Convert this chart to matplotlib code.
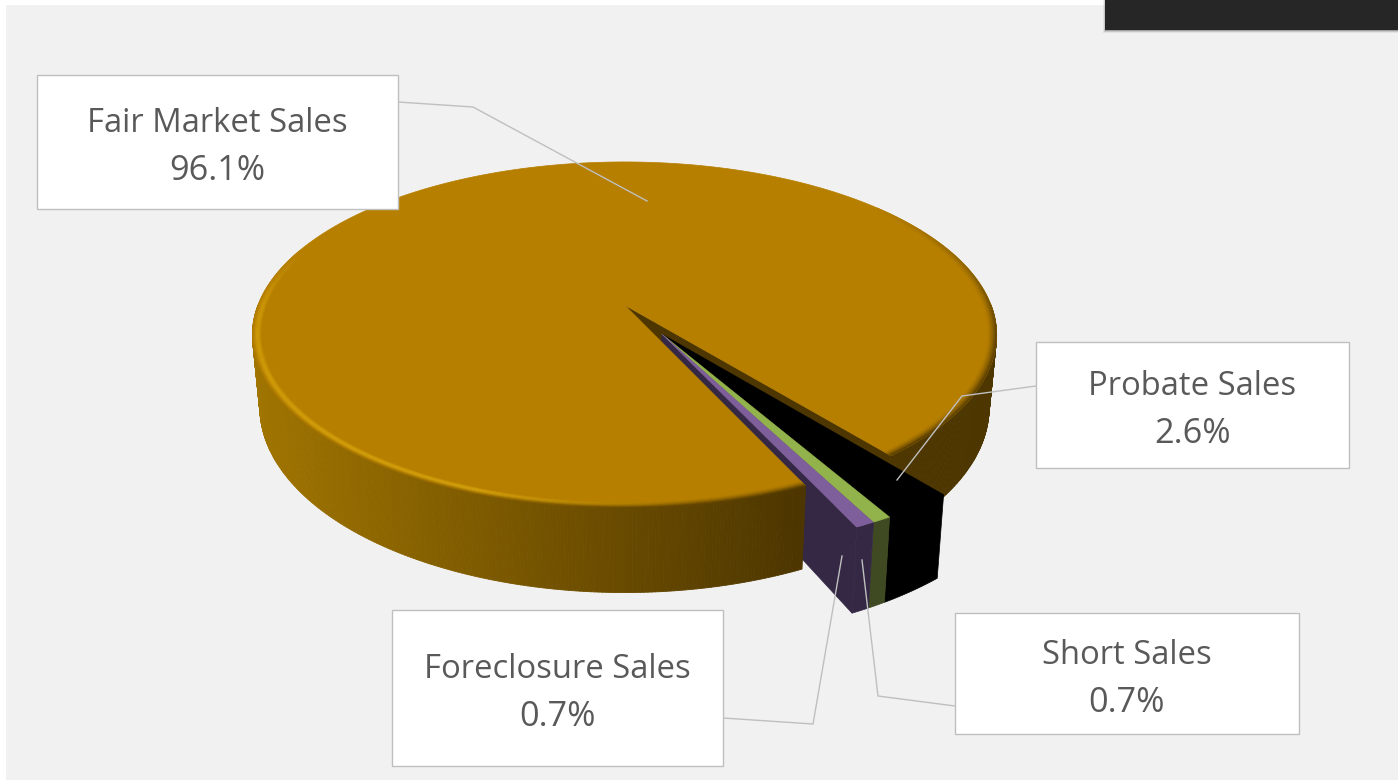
import numpy as np
import matplotlib
matplotlib.use("Agg")
import matplotlib.pyplot as plt
from matplotlib.collections import PolyCollection
from matplotlib.colors import to_rgb
from matplotlib.patches import Rectangle, Polygon

categories = ["Fair Market Sales", "Probate Sales", "Short Sales", "Foreclosure Sales"]
values = [96.1, 2.6, 0.7, 0.7]
value_labels = ["96.1%", "2.6%", "0.7%", "0.7%"]

# pie projection
CX, CY, RX, RY, K, DEPTH, SHRINK = 624.5, 305.0, 366.5, 167.8, 0.173, 70.0, 0.02
ANCHOR = -51.0
EXPLODE, EXPLODE_DIR = 0.195, -59.5
TOP = "#B67F00"
FACE = "#4D3600"
HILITE = "#DCA60C"

def proj(r, a, z=0.0, off=(0, 0)):
    a = np.radians(np.asarray(a, dtype=float))
    u = r * np.cos(a) + off[0]
    v = r * np.sin(a) + off[1]
    w = 1 + K * v
    return np.column_stack([CX + RX * u / w * (1 - SHRINK * z),
                            CY - RY * v / w + DEPTH * z / w])

def arc(a0, a1, step=0.5):
    n = max(2, int(abs(a1 - a0) / step) + 1)
    return np.linspace(a0, a1, n)

fig = plt.figure(figsize=(13.98, 7.81), dpi=100, facecolor="white")
ax = fig.add_axes([0, 0, 1, 1])
ax.set_xlim(0, 1398)
ax.set_ylim(781, 0)
ax.axis("off")

ax.add_patch(Rectangle((6, 5), 1392, 775, fc="#F1F1F1", ec="none", zorder=0))
for i, al in enumerate([0.06, 0.12, 0.2]):
    ax.add_patch(Rectangle((1103 + i, 0), 300, 33 - i, fc="black", ec="none", alpha=al, zorder=0.5))
ax.add_patch(Rectangle((1105, -1), 300, 31, fc="#262626", ec="none", zorder=1))

# slice angles, clockwise from the anchor
fracs = np.array(values) / sum(values) * 360
probate0 = ANCHOR
probate1 = probate0 - fracs[1]
short1 = probate1 - fracs[2]
fore1 = short1 - fracs[3]
fair0 = fore1
fair1 = fair0 - fracs[0]   # equals ANCHOR - 360
off = (EXPLODE * np.cos(np.radians(EXPLODE_DIR)), EXPLODE * np.sin(np.radians(EXPLODE_DIR)))

def side_color(x):
    t = np.clip((x - 255) / (800 - 255), 0, 1)
    c0 = np.array([160, 116, 0]) / 255
    c1 = np.array([77, 54, 0]) / 255
    return c0 + (c1 - c0) * t

def side_strips(a0, a1, z):
    A = arc(a0, a1, 0.5)
    top = proj(1, A)
    bot = proj(1, A, 1)
    polys = []
    cols = []
    for i in range(len(A) - 1):
        polys.append([top[i], top[i + 1], bot[i + 1], bot[i]])
        cols.append(side_color((top[i][0] + top[i + 1][0]) / 2))
    ax.add_collection(PolyCollection(polys, facecolors=cols, edgecolors=cols, linewidths=0.6, zorder=z))

# main pie: right part of the wall
side_strips(0, ANCHOR, 2)
# main pie: visible radial cut
tip_t, tip_b = proj(0, [0.0]), proj(0, [0.0], 1)
rim_t, rim_b = proj(1, [ANCHOR]), proj(1, [ANCHOR], 1)
ax.add_patch(Polygon(np.vstack([tip_t, rim_t, rim_b, tip_b]), fc=FACE, ec=FACE, lw=0.5, zorder=3))

# foreclosure radial cut, hidden by the main top near the tip
PURPLE_F, GREEN_F = "#342845", "#3F4A22"
PURPLE_T, GREEN_T = "#7F5F9B", "#92B24C"
t0, t1 = proj(0, [0.0], 0, off), proj(1, [fore1], 0, off)
b1, b0 = proj(1, [fore1], 1, off), proj(0, [0.0], 1, off)
ax.add_patch(Polygon(np.vstack([t0, t1, b1, b0]), fc=PURPLE_F, ec=PURPLE_F, lw=0.5, zorder=4))

# main top
A = arc(fair0, fair1, 0.5)
ax.add_patch(Polygon(np.vstack([proj(0, [0.0]), proj(1, A)]), fc=TOP, ec=TOP, lw=0.5, zorder=5))

# main front wall
side_strips(-180, fair0, 6)

# soft bevel on the rim: a highlight on the left and front, a dark fade on the right
def bevel(a0, a1, s_keys, d_keys, r0=0.976, z=7):
    A = arc(a0, a1, 1.0)
    edges = np.linspace(r0, 1.0, 9)
    top = np.array(to_rgb(TOP))
    hi = np.array(to_rgb(HILITE))
    dark = np.array(to_rgb(FACE))
    sa, sv = zip(*s_keys)
    da, dv = zip(*d_keys)
    polys, cols = [], []
    for j in range(len(edges) - 1):
        inner, outer = proj(edges[j], A), proj(edges[j + 1], A)
        p = (j + 0.5) / (len(edges) - 1)
        bump = np.sin(np.pi * min(p / 0.9, 1.0))
        for i in range(len(A) - 1):
            am = (A[i] + A[i + 1]) / 2
            s = np.interp(am, sa, sv)
            d = np.interp(am, da, dv)
            polys.append([inner[i], inner[i + 1], outer[i + 1], outer[i]])
            cols.append(np.clip(top + s * bump * (hi - top) + d * p ** 1.5 * (dark - top), 0, 1))
    ax.add_collection(PolyCollection(polys, facecolors=cols, edgecolors=cols, linewidths=0.3, zorder=z))

bevel(-200, fair0,
      [(-200, 0.0), (-180, 0.6), (-140, 0.9), (-110, 1.0), (-90, 0.3), (-80, 0.0), (0, 0.0)],
      [(-200, 0.0), (-175, 0.0), (-110, 0.3), (-90, 0.8), (fair0, 1.0)])
bevel(ANCHOR, 40,
      [(ANCHOR, 0.0), (40, 0.0)],
      [(ANCHOR, 1.0), (-10, 0.9), (15, 0.4), (40, 0.0)])

# exploded slices
def slice_draw(a0, a1, ctop, cface, z):
    A = arc(a0, a1, 0.25)
    top = proj(1, A, 0, off)
    bot = proj(1, A, 1, off)
    ax.add_patch(Polygon(np.vstack([top, bot[::-1]]), fc=cface, ec=cface, lw=0.5, zorder=z))
    ax.add_patch(Polygon(np.vstack([proj(0, [0.0], 0, off), top]), fc=ctop, ec=ctop, lw=0.3, zorder=z + 0.1))

slice_draw(probate0, probate1, "#000000", "#000000", 8)
slice_draw(probate1, short1, GREEN_T, GREEN_F, 8.2)
slice_draw(short1, fore1, PURPLE_T, PURPLE_F, 8.4)

# labels
LEADER = "#BFBFBF"
boxes = [(37, 75, 398, 209), (1036, 342, 1349, 468), (955, 613, 1299, 734), (392, 610, 723, 766)]
leaders = [[(398, 102), (473, 107), (647, 201)],
           [(1036, 386), (962, 396), (897, 480)],
           [(955, 706), (878, 696), (862, 560)],
           [(723, 718), (813, 724), (842, 556)]]
for name, val, (x0, y0, x1, y1), ld in zip(categories, value_labels, boxes, leaders):
    xs, ys = zip(*ld)
    ax.plot(xs, ys, color=LEADER, lw=1.0, zorder=9, solid_joinstyle="miter")
    ax.add_patch(Rectangle((x0, y0), x1 - x0, y1 - y0, fc="white", ec=LEADER, lw=1.0, zorder=10))
    xm = (x0 + x1) / 2
    ym = (y0 + y1) / 2
    ax.text(xm, ym - 18.5, name, ha="center", va="center", fontsize=23.6, color="#595959", family="Open Sans", zorder=11)
    ax.text(xm, ym + 29, val, ha="center", va="center", fontsize=24.7, color="#595959", family="Open Sans", zorder=11)

fig.savefig("out.png", dpi=100, facecolor="white")
